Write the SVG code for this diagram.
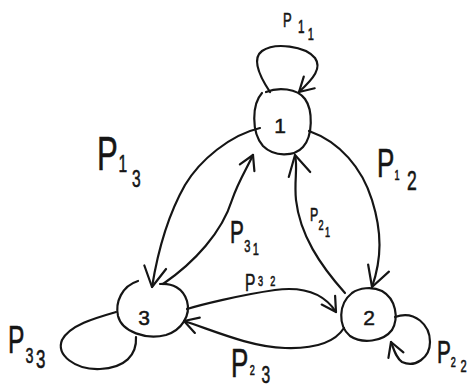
<svg xmlns="http://www.w3.org/2000/svg" width="474" height="391" viewBox="0 0 474 391">
  <defs>
    <style>
      .ink { fill: none; stroke: #151515; stroke-width: 2.2; stroke-linecap: round; stroke-linejoin: round; }
      .lbl { fill: #151515; stroke: #151515; stroke-width: 0.6; font-family: "Liberation Sans", "DejaVu Sans", sans-serif; }
      .num { fill: #151515; stroke: #151515; stroke-width: 0.5; font-family: "Liberation Sans", "DejaVu Sans", sans-serif; font-size: 21px; text-anchor: middle; }
    </style>
    <marker id="headL" markerUnits="userSpaceOnUse" markerWidth="30" markerHeight="30" viewBox="-24 -15 28 30" refX="0" refY="0" orient="auto">
      <path d="M -20,-11 L 0,0 L -20,11" fill="none" stroke="#151515" stroke-width="2.2" stroke-linecap="round" stroke-linejoin="round"/>
    </marker>
    <marker id="headS" markerUnits="userSpaceOnUse" markerWidth="24" markerHeight="24" viewBox="-18 -12 22 24" refX="0" refY="0" orient="auto">
      <path d="M -14,-8 L 0,0 L -14,8" fill="none" stroke="#151515" stroke-width="2.2" stroke-linecap="round" stroke-linejoin="round"/>
    </marker>
  </defs>

  <rect width="474" height="391" fill="#ffffff"/>

  <!-- states -->
  <g id="state-1">
    <path class="ink" d="M 262,93 C 252,104 251,132 263,146 C 274,157 294,157 303,147 C 313,136 313,110 305,99 C 297,88 278,87 266,92"/>
    <text class="num" x="280" y="133">1</text>
  </g>
  <g id="state-2">
    <path class="ink" d="M 352,293 C 338,304 338,326 350,336 C 362,344 383,342 392,330 C 399,318 396,299 382,291 C 372,286 359,288 352,293"/>
    <text class="num" x="369" y="325">2</text>
  </g>
  <g id="state-3">
    <path class="ink" d="M 138,281 C 122,286 115,302 118,316 C 122,332 146,340 166,335 C 182,330 191,315 187,301 C 183,288 172,283 160,284"/>
    <text class="num" x="144" y="325">3</text>
  </g>

  <!-- transitions -->
  <g id="transitions">
    <!-- self loops -->
    <path class="ink" marker-end="url(#headS)" d="M 270,92 C 262,80 250,60 262,51 C 275,42 305,46 315,58 C 322,68 314,78 299,92"/>
    <path class="ink" d="M 116,312 C 95,318 70,325 62,340 C 56,355 75,370 100,369 C 125,368 137,355 136,337"/>
    <path class="ink" marker-end="url(#headS)" d="M 395,317 C 415,310 430,325 430,342 C 430,358 415,368 402,362 C 396,358 394,350 391,342"/>
    <!-- 1 -> 3 and 3 -> 1 -->
    <path class="ink" marker-end="url(#headL)" d="M 260,128 C 230,135 200,160 185,185 C 168,215 158,250 152,287"/>
    <path class="ink" marker-end="url(#headS)" d="M 163,284 C 195,262 222,232 232,200 C 238,182 247,168 253,155"/>
    <!-- 1 -> 2 and 2 -> 1 -->
    <path class="ink" marker-end="url(#headL)" d="M 309,131 C 340,142 362,168 372,200 C 382,232 382,258 372,287"/>
    <path class="ink" marker-end="url(#headL)" d="M 345,293 C 320,265 300,235 296,200 C 294,180 298,168 295,155"/>
    <!-- 3 -> 2 and 2 -> 3 -->
    <path class="ink" marker-end="url(#headS)" d="M 187,309 C 200,305 240,295 275,290 C 305,286 325,295 336,312"/>
    <path class="ink" marker-end="url(#headS)" d="M 344,328 C 335,342 315,349 285,348 C 250,347 212,330 184,321"/>
  </g>

  <!-- transition probabilities -->
  <g id="labels">
    <text class="lbl" transform="translate(283,27) scale(0.65,1)"><tspan x="0" y="0" font-size="20">P</tspan><tspan x="23" y="6" font-size="18">1</tspan><tspan x="38" y="13" font-size="17">1</tspan></text>
    <text class="lbl" transform="translate(97,170) scale(0.65,1)"><tspan x="0" y="0" font-size="48">P</tspan><tspan x="33" y="2" font-size="24">1</tspan><tspan x="54" y="17" font-size="24">3</tspan></text>
    <text class="lbl" transform="translate(377,177) scale(0.65,1)"><tspan x="0" y="0" font-size="40">P</tspan><tspan x="27" y="3" font-size="14">1</tspan><tspan x="46" y="13" font-size="27">2</tspan></text>
    <text class="lbl" transform="translate(310,221) scale(0.65,1)"><tspan x="0" y="0" font-size="19">P</tspan><tspan x="13" y="9" font-size="14">2</tspan><tspan x="23" y="16" font-size="14">1</tspan></text>
    <text class="lbl" transform="translate(230,243) scale(0.65,1)"><tspan x="0" y="0" font-size="32">P</tspan><tspan x="22" y="9" font-size="17">3</tspan><tspan x="35" y="12" font-size="17">1</tspan></text>
    <text class="lbl" transform="translate(245,291) scale(0.65,1)"><tspan x="0" y="0" font-size="24">P</tspan><tspan x="20" y="-5" font-size="14">3</tspan><tspan x="39" y="-5" font-size="14">2</tspan></text>
    <text class="lbl" transform="translate(231,377) scale(0.65,1)"><tspan x="0" y="0" font-size="40">P</tspan><tspan x="29" y="-2" font-size="14">2</tspan><tspan x="47" y="6" font-size="24">3</tspan></text>
    <text class="lbl" transform="translate(8,353) scale(0.65,1)"><tspan x="0" y="0" font-size="38">P</tspan><tspan x="27" y="10" font-size="22">3</tspan><tspan x="43" y="15" font-size="26">3</tspan></text>
    <text class="lbl" transform="translate(437,363) scale(0.65,1)"><tspan x="0" y="0" font-size="32">P</tspan><tspan x="21" y="4" font-size="14">2</tspan><tspan x="36" y="9" font-size="17">2</tspan></text>
  </g>
</svg>
